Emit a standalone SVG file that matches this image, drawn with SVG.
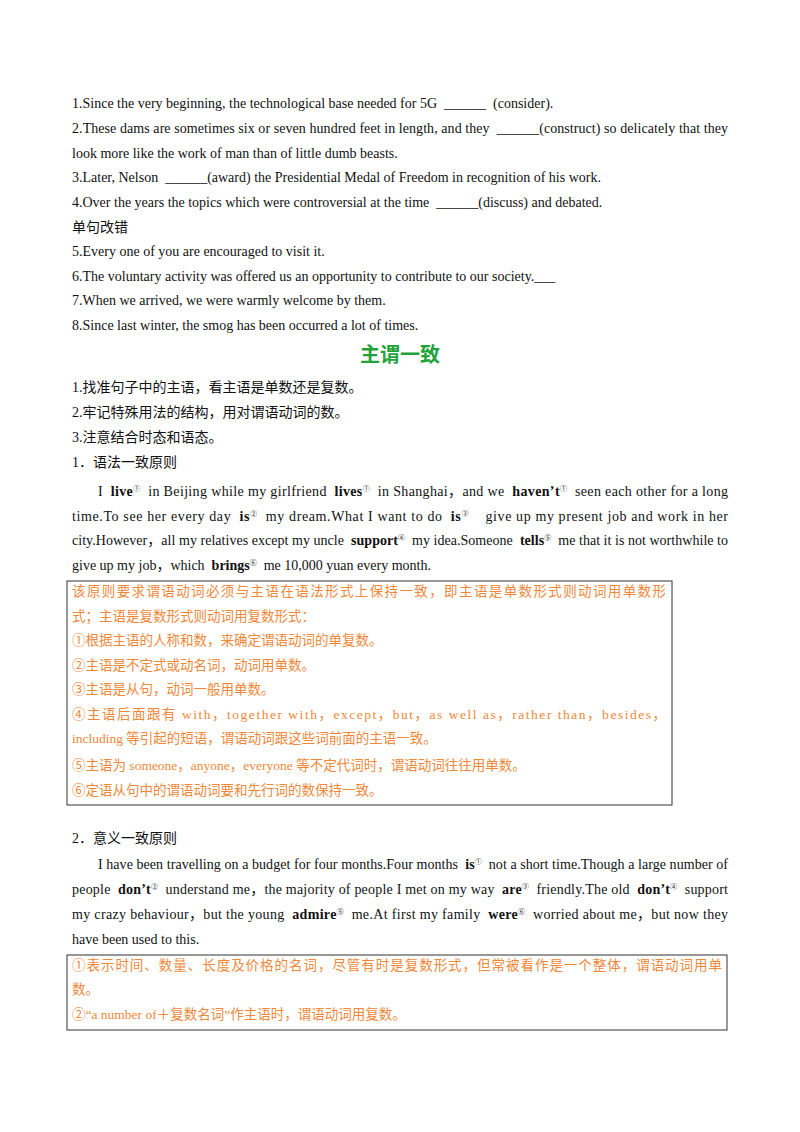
<svg xmlns="http://www.w3.org/2000/svg" width="800" height="1132" viewBox="0 0 800 1132" xml:space="preserve">
<style>
text{font-family:"Liberation Serif","Noto Sans CJK SC",serif;font-size:14px;fill:#111;white-space:pre}
.o{fill:#f0883a;font-size:13.5px}
.b{font-weight:bold}
.s{font-size:7px}
.t{font-size:20px;font-weight:bold;fill:#22a33a}
rect{fill:none;stroke:#333;stroke-width:1}
</style>
<rect width="800" height="1132" fill="#fff" style="stroke:none"/>
<text x="72" y="108">1.Since the very beginning, the technological base needed for 5G  ______  (consider).</text>
<text x="72" y="133" textLength="656">2.These dams are sometimes six or seven hundred feet in length, and they  ______(construct) so delicately that they</text>
<text x="72" y="158">look more like the work of man than of little dumb beasts.</text>
<text x="72" y="182">3.Later, Nelson  ______(award) the Presidential Medal of Freedom in recognition of his work.</text>
<text x="72" y="207">4.Over the years the topics which were controversial at the time  ______(discuss) and debated.</text>
<text x="72" y="232">单句改错</text>
<text x="72" y="256">5.Every one of you are encouraged to visit it.</text>
<text x="72" y="281">6.The voluntary activity was offered us an opportunity to contribute to our society.___</text>
<text x="72" y="305">7.When we arrived, we were warmly welcome by them.</text>
<text x="72" y="330">8.Since last winter, the smog has been occurred a lot of times.</text>
<text x="400" y="362" text-anchor="middle" class="t">主谓一致</text>
<text x="72" y="392">1.找准句子中的主语，看主语是单数还是复数。</text>
<text x="72" y="417">2.牢记特殊用法的结构，用对谓语动词的数。</text>
<text x="72" y="442">3.注意结合时态和语态。</text>
<text x="72" y="467">1．语法一致原则</text>
<text x="98" y="496" textLength="630">I  <tspan class="b">live</tspan><tspan class="s" dy="-5">①</tspan><tspan dy="5">  in Beijing while my girlfriend  </tspan><tspan class="b">lives</tspan><tspan class="s" dy="-5">①</tspan><tspan dy="5">  in Shanghai，and we  </tspan><tspan class="b">haven’t</tspan><tspan class="s" dy="-5">①</tspan><tspan dy="5">  seen each other for a long</tspan></text>
<text x="72" y="521" textLength="656">time.To see her every day  <tspan class="b">is</tspan><tspan class="s" dy="-5">②</tspan><tspan dy="5">  my dream.What I want to do  </tspan><tspan class="b">is</tspan><tspan class="s" dy="-5">③</tspan><tspan dy="5">    give up my present job and work in her</tspan></text>
<text x="72" y="545" textLength="656">city.However，all my relatives except my uncle  <tspan class="b">support</tspan><tspan class="s" dy="-5">④</tspan><tspan dy="5">  my idea.Someone  </tspan><tspan class="b">tells</tspan><tspan class="s" dy="-5">⑤</tspan><tspan dy="5">  me that it is not worthwhile to</tspan></text>
<text x="72" y="570">give up my job，which  <tspan class="b">brings</tspan><tspan class="s" dy="-5">⑥</tspan><tspan dy="5">  me 10,000 yuan every month.</tspan></text>
<g id="box1">
<rect x="67" y="581" width="605" height="224"/>
<text class="o" x="72" y="596" textLength="594">该原则要求谓语动词必须与主语在语法形式上保持一致，即主语是单数形式则动词用单数形</text>
<text class="o" x="72" y="621">式；主语是复数形式则动词用复数形式：</text>
<text class="o" x="72" y="645">①根据主语的人称和数，来确定谓语动词的单复数。</text>
<text class="o" x="72" y="670">②主语是不定式或动名词，动词用单数。</text>
<text class="o" x="72" y="694">③主语是从句，动词一般用单数。</text>
<text class="o" x="72" y="719" textLength="594">④主语后面跟有 with，together with，except，but，as well as，rather than，besides，</text>
<text class="o" x="72" y="743">including 等引起的短语，谓语动词跟这些词前面的主语一致。</text>
<text class="o" x="72" y="770">⑤主语为 someone，anyone，everyone 等不定代词时，谓语动词往往用单数。</text>
<text class="o" x="72" y="795">⑥定语从句中的谓语动词要和先行词的数保持一致。</text>
</g>
<text x="72" y="843">2．意义一致原则</text>
<text x="98" y="869" textLength="630">I have been travelling on a budget for four months.Four months  <tspan class="b">is</tspan><tspan class="s" dy="-5">①</tspan><tspan dy="5">  not a short time.Though a large number of</tspan></text>
<text x="72" y="894" textLength="656">people  <tspan class="b">don’t</tspan><tspan class="s" dy="-5">②</tspan><tspan dy="5">  understand me，the majority of people I met on my way  </tspan><tspan class="b">are</tspan><tspan class="s" dy="-5">③</tspan><tspan dy="5">  friendly.The old  </tspan><tspan class="b">don’t</tspan><tspan class="s" dy="-5">④</tspan><tspan dy="5">  support</tspan></text>
<text x="72" y="919" textLength="656">my crazy behaviour，but the young  <tspan class="b">admire</tspan><tspan class="s" dy="-5">⑤</tspan><tspan dy="5">  me.At first my family  </tspan><tspan class="b">were</tspan><tspan class="s" dy="-5">⑥</tspan><tspan dy="5">  worried about me，but now they</tspan></text>
<text x="72" y="944">have been used to this.</text>
<g id="box2">
<rect x="67" y="955" width="660" height="75"/>
<text class="o" x="72" y="970" textLength="650">①表示时间、数量、长度及价格的名词，尽管有时是复数形式，但常被看作是一个整体，谓语动词用单</text>
<text class="o" x="72" y="994">数。</text>
<text class="o" x="72" y="1019">②“a number of＋复数名词”作主语时，谓语动词用复数。</text>
</g>
</svg>
